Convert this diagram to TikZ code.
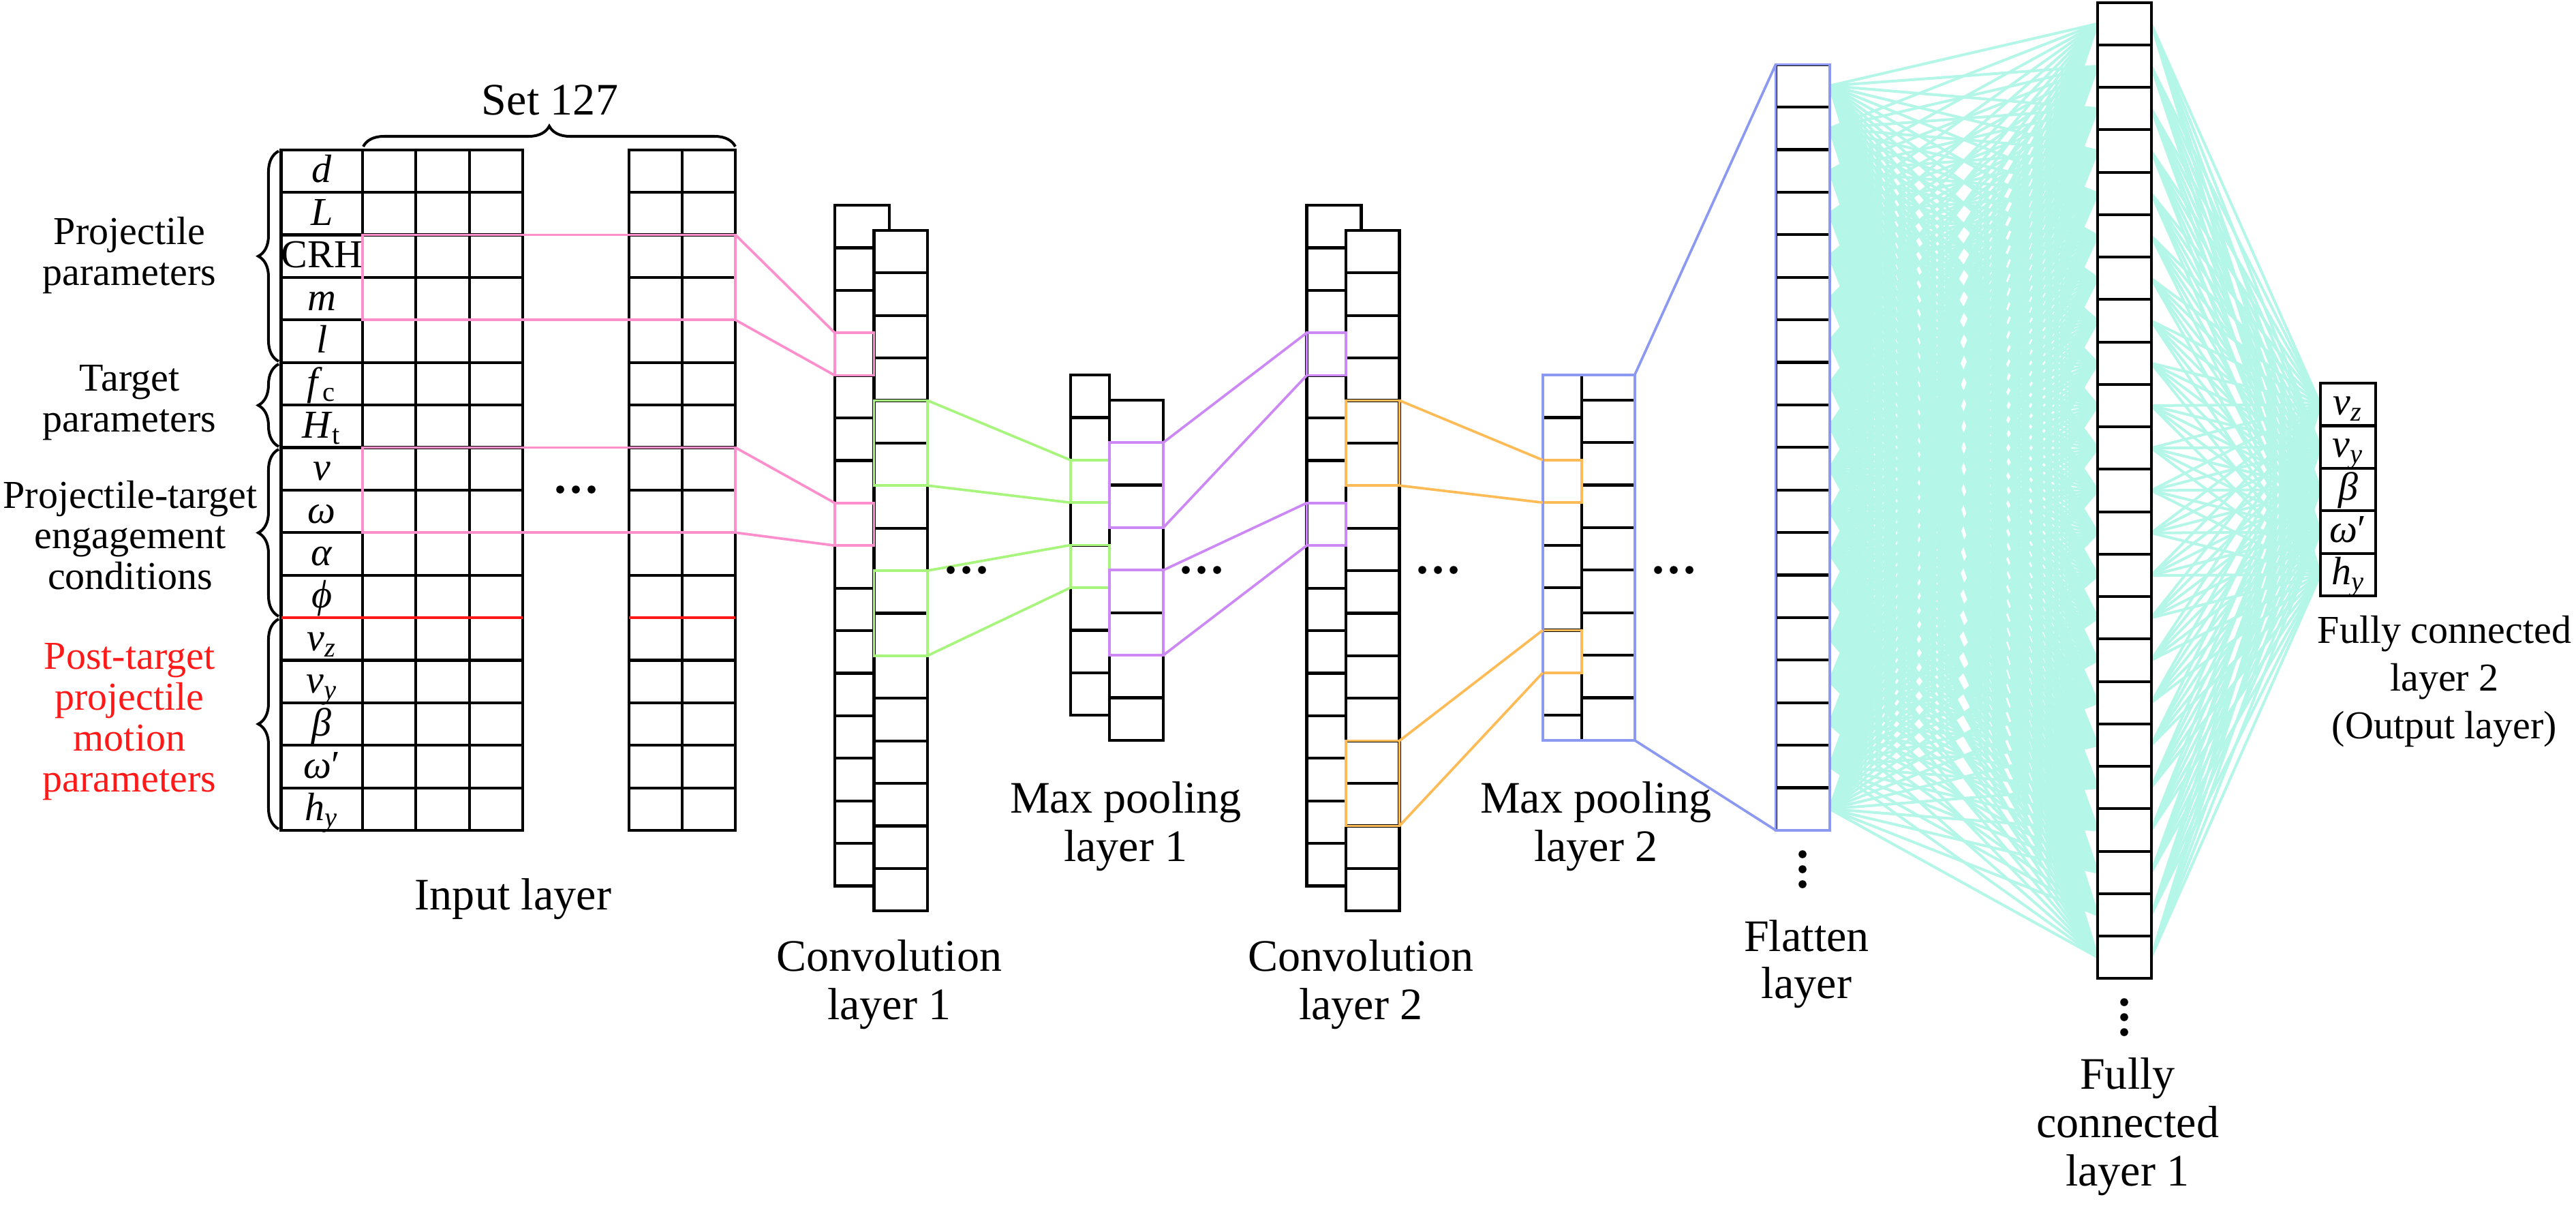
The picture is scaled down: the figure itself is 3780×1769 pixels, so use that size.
\documentclass[tikz,border=0pt]{standalone}
\usepackage{fontspec}
\setmainfont{Liberation Serif}
\usetikzlibrary{fit,decorations.pathreplacing}
\definecolor{pinkc}{RGB}{255,143,204}
\definecolor{greenc}{RGB}{168,245,126}
\definecolor{purplec}{RGB}{204,136,245}
\definecolor{orangec}{RGB}{255,187,85}
\definecolor{bluec}{RGB}{140,153,240}
\definecolor{cyanc}{RGB}{180,246,232}
\definecolor{redc}{RGB}{255,25,25}
\newcommand\nncol[5]{%
  \draw[fill=white] (#1,#3) rectangle (#2,{#3+#4*#5});
  \foreach \k in {1,...,#4}{\draw (#1,{#3+\k*#5}) -- (#2,{#3+\k*#5});}%
}
\tikzset{
  lbl/.style={font=\fontsize{18.8pt}{20.2pt}\selectfont, align=center, inner sep=0pt},
  flbl/.style={font=\fontsize{18.8pt}{19.6pt}\selectfont, align=center, inner sep=0pt},
  outlbl/.style={font=\fontsize{16.5pt}{19.9pt}\selectfont, align=center, inner sep=0pt},
  sidelbl/.style={font=\fontsize{16.5pt}{17pt}\selectfont, align=center, inner sep=0pt},
  celllbl/.style={font=\fontsize{16.5pt}{17pt}\selectfont, anchor=base, inner sep=0pt},
  hbox/.style={inner sep=0pt, outer sep=0pt, line width=0.037cm},
  conn/.style={line width=0.037cm},
  fcline/.style={cyanc, line width=0.04cm},
  bracestyle/.style={decorate, decoration={brace, amplitude=0.3cm}, line width=0.04cm},
  dotc/.style={fill=black}
}
\begin{document}
\begin{tikzpicture}[x=0.01cm, y=-0.01cm, line width=0.042cm]
\useasboundingbox (0,0) rectangle (3780,1769);

% ---------- fully connected connectors (background)
\foreach \i in {1,...,18} \coordinate (flr\i) at (2684.7,{94.6+62.4*(\i-0.5)});
\foreach \j in {1,...,23} {
  \coordinate (fcl\j) at (3078,{3.6+62.25*(\j-0.5)});
  \coordinate (fcr\j) at (3156.6,{3.6+62.25*(\j-0.5)});
}
\foreach \k in {1,...,5} \coordinate (ol\k) at (3405,{562+62.4*(\k-0.5)});
\foreach \i in {1,...,18} {\foreach \j in {1,...,23} {\draw[fcline] (flr\i) -- (fcl\j);}}
\foreach \j in {1,...,23} {\foreach \k in {1,...,5} {\draw[fcline] (fcr\j) -- (ol\k);}}

% ---------- input layer table
\nncol{412.5}{532}{219.6}{16}{62.4}
\nncol{532}{767}{219.6}{16}{62.4}
\draw (610,219.6) -- (610,1218) (689,219.6) -- (689,1218);
\nncol{923}{1079}{219.6}{16}{62.4}
\draw (1001,219.6) -- (1001,1218);
\draw[redc] (412.5,906) -- (767,906) (923,906) -- (1079,906);

\foreach \r/\t in {0/{\textit{d}},1/{\textit{L}},2/{CRH},3/{\textit{m}},4/{\textit{l}},
  5/{\textit{f}\textsubscript{c}},6/{\textit{H}\textsubscript{t}},7/{\textit{v}},8/{\textit{ω}},
  9/{\textit{α}},10/{\textit{ϕ}},11/{\textit{v}\textsubscript{\textit{z}}},12/{\textit{v}\textsubscript{\textit{y}}},
  13/{\textit{β}},14/{\textit{ω}′},15/{\textit{h}\textsubscript{\textit{y}}}}
  \node[celllbl] (row\r) at (472.25,{219.6+62.4*\r+31.2+17}) {\t};

% ---------- convolution layer 1
\nncol{1225}{1305}{301}{16}{62.4}
\nncol{1282.5}{1361}{337.8}{16}{62.4}
% ---------- max pooling layer 1
\nncol{1570.7}{1628}{550}{8}{62.4}
\nncol{1628}{1707}{586.7}{8}{62.4}
% ---------- convolution layer 2
\nncol{1917.5}{1997.5}{301}{16}{62.4}
\nncol{1975}{2053.5}{337.8}{16}{62.4}
% ---------- max pooling layer 2
\nncol{2263.8}{2321}{550}{8}{62.4}
\nncol{2321}{2398.7}{586.7}{8}{62.4}
% ---------- flatten, FC1, output
\nncol{2605.6}{2684.7}{94.6}{18}{62.4}
\nncol{3078}{3156.6}{3.6}{23}{62.25}
\nncol{3405}{3486}{562}{5}{62.4}

\foreach \k/\t in {0/{\textit{v}\textsubscript{\textit{z}}},1/{\textit{v}\textsubscript{\textit{y}}},2/{\textit{β}},3/{\textit{ω}′},4/{\textit{h}\textsubscript{\textit{y}}}}
  \node[celllbl] (out\k) at (3445.5,{562+62.4*\k+31.2+15}) {\t};

% ---------- highlighted boxes
\node[hbox, draw=pinkc, fit={(532,344.4) (1079,469.2)}] (in1) {};
\node[hbox, draw=pinkc, fit={(532,656.4) (1079,781.2)}] (in2) {};
\node[hbox, draw=pinkc, fit={(1225,488.2) (1282.5,550.6)}] (c1p1) {};
\node[hbox, draw=pinkc, fit={(1225,737.8) (1282.5,800.2)}] (c1p2) {};
\node[hbox, draw=greenc, fit={(1282.5,587.4) (1361,712.2)}] (c1g1) {};
\node[hbox, draw=greenc, fit={(1282.5,837) (1361,961.8)}] (c1g2) {};
\node[hbox, draw=greenc, fit={(1570.7,674.8) (1628,737.2)}] (p1g1) {};
\node[hbox, draw=greenc, fit={(1570.7,799.6) (1628,862)}] (p1g2) {};
\node[hbox, draw=purplec, fit={(1628,649.1) (1707,773.9)}] (p1v1) {};
\node[hbox, draw=purplec, fit={(1628,836.3) (1707,961.1)}] (p1v2) {};
\node[hbox, draw=purplec, fit={(1917.5,488.2) (1975,550.6)}] (c2v1) {};
\node[hbox, draw=purplec, fit={(1917.5,737.8) (1975,800.2)}] (c2v2) {};
\node[hbox, draw=orangec, fit={(1975,587.4) (2053.5,712.2)}] (c2o1) {};
\node[hbox, draw=orangec, fit={(1975,1086.6) (2053.5,1211.4)}] (c2o2) {};
\node[hbox, draw=orangec, fit={(2263.8,674.8) (2321,737.2)}] (p2o1) {};
\node[hbox, draw=orangec, fit={(2263.8,924.4) (2321,986.8)}] (p2o2) {};
\node[hbox, draw=bluec, fit={(2263.8,550) (2398.7,1085.9)}] (p2) {};
\node[hbox, draw=bluec, fit={(2605.6,94.6) (2684.7,1217.8)}] (fl) {};

% ---------- connectors
\draw[pinkc, conn] (in1.north east) -- (c1p1.north west);
\draw[pinkc, conn] (in1.south east) -- (c1p1.south west);
\draw[pinkc, conn] (in2.north east) -- (c1p2.north west);
\draw[pinkc, conn] (in2.south east) -- (c1p2.south west);
\draw[greenc, conn] (c1g1.north east) -- (p1g1.north west);
\draw[greenc, conn] (c1g1.south east) -- (p1g1.south west);
\draw[greenc, conn] (c1g2.north east) -- (p1g2.north west);
\draw[greenc, conn] (c1g2.south east) -- (p1g2.south west);
\draw[purplec, conn] (p1v1.north east) -- (c2v1.north west);
\draw[purplec, conn] (p1v1.south east) -- (c2v1.south west);
\draw[purplec, conn] (p1v2.north east) -- (c2v2.north west);
\draw[purplec, conn] (p1v2.south east) -- (c2v2.south west);
\draw[orangec, conn] (c2o1.north east) -- (p2o1.north west);
\draw[orangec, conn] (c2o1.south east) -- (p2o1.south west);
\draw[orangec, conn] (c2o2.north east) -- (p2o2.north west);
\draw[orangec, conn] (c2o2.south east) -- (p2o2.south west);
\draw[bluec, conn] (p2.north east) -- (fl.north west);
\draw[bluec, conn] (p2.south east) -- (fl.south west);

% ---------- braces
\draw[bracestyle] (533,215) -- (1079,215);
\draw[bracestyle] (409,530) -- (409,221.6);
\draw[bracestyle] (409,655) -- (409,534);
\draw[bracestyle] (409,904) -- (409,659);
\draw[bracestyle] (409,1216) -- (409,908);

% ---------- dots
\foreach \cx/\cy in {845/718, 1418/836, 1763/836, 2110/836, 2456/836}
  \foreach \d in {-23,0,23} \fill[dotc] ({\cx+\d},\cy) circle[radius=0.058cm];
\foreach \cx/\cy in {2645/1275, 3117/1492}
  \foreach \d in {-22,0,22} \fill[dotc] (\cx,{\cy+\d}) circle[radius=0.058cm];

% ---------- labels
\node[lbl] (setl) at (807,147) {Set 127};
\node[sidelbl] (projp) at (190,374.5) {Projectile\\parameters};
\node[sidelbl] (targp) at (190,591) {Target\\parameters};
\node[sidelbl] (engp) at (191,785) {Projectile-target\\engagement\\conditions};
\node[sidelbl, text=redc] (postp) at (190,1058.5) {Post-target\\projectile\\motion\\parameters};
\node[lbl] (inl) at (753,1319) {Input layer};
\node[lbl] (c1l) at (1305,1444) {Convolution\\layer 1};
\node[lbl] (p1l) at (1652,1212) {Max pooling\\layer 1};
\node[lbl] (c2l) at (1997,1444) {Convolution\\layer 2};
\node[lbl] (p2l) at (2342,1212) {Max pooling\\layer 2};
\node[flbl] (fll) at (2651,1414.5) {Flatten\\layer};
\node[lbl] (fc1l) at (3122,1653) {Fully\\connected\\layer 1};
\node[outlbl] (fc2l) at (3587,999.5) {Fully connected\\layer 2\\(Output layer)};
\end{tikzpicture}
\end{document}
